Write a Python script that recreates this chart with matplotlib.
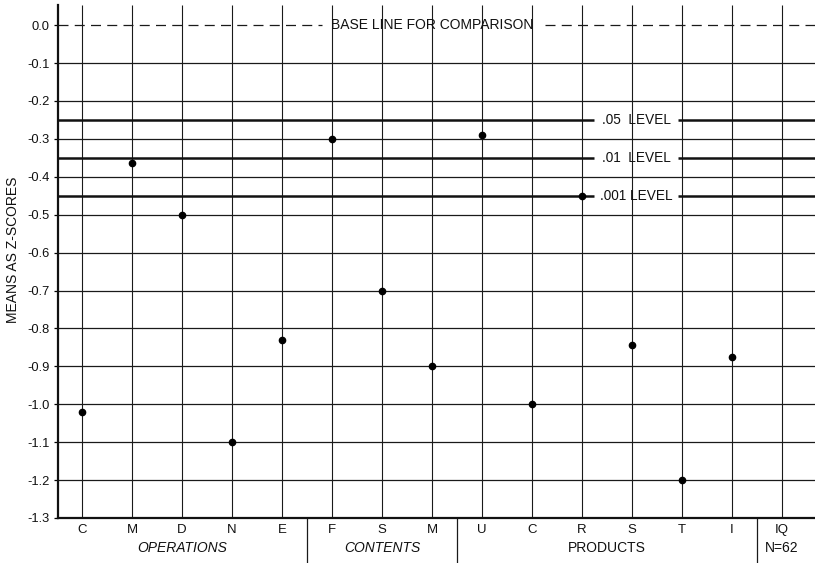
import matplotlib
matplotlib.use("Agg")
import matplotlib.pyplot as plt
import numpy as np

plt.rcParams['font.family'] = ['Liberation Sans', 'DejaVu Sans']
plt.rcParams['axes.unicode_minus'] = False

categories = ["C", "M", "D", "N", "E", "F", "S", "M", "U", "C", "R", "S", "T", "I", "IQ"]
values = [-1.02, -0.365, -0.50, -1.10, -0.83, -0.30, -0.70, -0.90,
          -0.29, -1.00, -0.45, -0.845, -1.20, -0.875, None]
groups = ["OPERATIONS", "CONTENTS", "PRODUCTS"]
group_centers = [2.0, 6.0, 10.5]
group_italic = [True, True, False]
separators = [4.5, 7.5, 13.5]
yticks = [0.0, -0.1, -0.2, -0.3, -0.4, -0.5, -0.6, -0.7, -0.8, -0.9, -1.0, -1.1, -1.2, -1.3]
levels = [-0.25, -0.35, -0.45]
level_labels = [".05  LEVEL", ".01  LEVEL", ".001 LEVEL"]

fig = plt.figure(figsize=(8.15, 5.63), dpi=100)
ax = fig.add_axes([58/815, 45/563, 757/815, 513/563])
xl = (-0.48, 14.66)
yl = (-1.3, 0.053)
ax.set_xlim(*xl)
ax.set_ylim(*yl)

lc = '#1a1a1a'
# vertical lines at each category
x = np.arange(len(categories))
ax.vlines(x, yl[0], yl[1], color=lc, lw=0.8, zorder=1)

# horizontal grid lines
for yv in yticks[1:-1]:
    ax.hlines(yv, xl[0], xl[1], color=lc, lw=0.9, zorder=1)

# baseline dashed with gap for text
ax.plot([xl[0], 4.8], [0, 0], color=lc, lw=0.9, dashes=(8, 5), zorder=1)
ax.plot([9.25, xl[1]], [0, 0], color=lc, lw=0.9, dashes=(8, 5), zorder=1)
ax.text(7.0, 0.0, "BASE LINE FOR COMPARISON", ha='center', va='center',
        fontsize=10, color='#111', zorder=3)

# significance levels
for lv, lab in zip(levels, level_labels):
    ax.hlines(lv, xl[0], 10.25, color='#111', lw=1.8, zorder=2)
    ax.hlines(lv, 11.92, xl[1], color='#111', lw=1.8, zorder=2)
    ax.text(11.09, lv, lab, ha='center', va='center', fontsize=9.8,
            color='#111', zorder=3)

# points
px = [i for i, v in enumerate(values) if v is not None]
py = [v for v in values if v is not None]
ax.plot(px, py, 'o', color='black', markersize=4.5, zorder=4)

# spines
for s in ['top', 'right']:
    ax.spines[s].set_visible(False)
ax.spines['left'].set_linewidth(1.6)
ax.spines['bottom'].set_linewidth(1.6)
ax.spines['left'].set_color('#111')
ax.spines['bottom'].set_color('#111')

ax.set_yticks(yticks)
ax.set_yticklabels([f"{t:.1f}" for t in yticks], fontsize=9.3, color='#111')
ax.tick_params(axis='y', direction='out', length=3, width=0.9, pad=3)
ax.set_xticks([])

trans = ax.get_xaxis_transform()
for i, c in enumerate(categories):
    ax.text(i, -0.023, c, transform=trans, ha='center', va='center',
            fontsize=9.5, color='#111', clip_on=False)
for g, gc, it in zip(groups, group_centers, group_italic):
    ax.text(gc, -0.058, g, transform=trans, ha='center', va='center',
            fontsize=10, color='#111', style='italic' if it else 'normal',
            clip_on=False)
ax.text(14, -0.058, "N=62", transform=trans, ha='center', va='center',
        fontsize=10, color='#111', clip_on=False)
for sx in separators:
    ax.plot([sx, sx], [0, -0.09], transform=trans, color=lc, lw=0.9,
            clip_on=False)

fig.text(13/815, 1 - 250/563, "MEANS AS Z-SCORES", rotation=90,
         ha='center', va='center', fontsize=10, color='#111')

fig.savefig("out.png", dpi=100)
